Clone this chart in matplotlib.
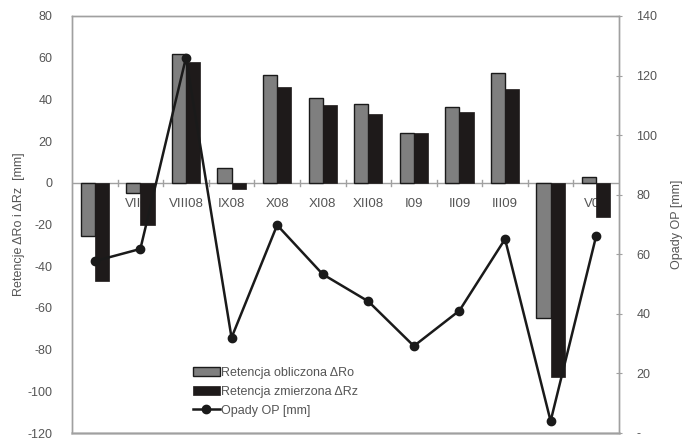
import numpy as np
import matplotlib
matplotlib.use('Agg')
from matplotlib import pyplot as plt
from matplotlib.ticker import FuncFormatter

months = ['VI08', 'VII08', 'VIII08', 'IX08', 'X08', 'XI08', 'XII08',
          'I09', 'II09', 'III09', 'IV09', 'V09']
retencja_obliczona = [-25.5, -5, 62, 7, 51.5, 40.5, 38, 24, 36.5, 52.5, -65, 3]
retencja_zmierzona = [-47, -20, 58, -3, 46, 37.5, 33, 24, 34, 45, -93, -16.5]
opady = [57.7, 61.8, 126, 32, 69.8, 53.3, 44.2, 29.2, 41.1, 65.1, 4, 66.2]

plt.rcParams['font.family'] = ['Liberation Sans', 'DejaVu Sans']
plt.rcParams['axes.unicode_minus'] = False
text_col = '#555555'
spine_col = '#a0a0a0'

fig = plt.figure(figsize=(6.86, 4.41), dpi=100)
ax = fig.add_axes([72 / 686, 1 - 433 / 441, (619 - 72) / 686, (433 - 16) / 441])
ax2 = ax.twinx()

x = np.arange(len(months))
w = 0.31
ax.bar(x - w / 2, retencja_obliczona, w, color='#7f7f7f', edgecolor='#1a1a1a',
       linewidth=1.0, zorder=3, label='Retencja obliczona ΔRo')
ax.bar(x + w / 2, retencja_zmierzona, w, color='#1e1a1a', edgecolor='#1e1a1a',
       linewidth=0.5, zorder=3, label='Retencja zmierzona ΔRz')

ax.set_xlim(-0.5, len(months) - 0.5)
ax.set_ylim(-120, 80)
ax.set_yticks(range(-120, 81, 20))
ax.set_xticks([])
ax.axhline(0, color=spine_col, linewidth=1.0, zorder=2)
for b in np.arange(0.5, len(months) - 0.5, 1):
    ax.plot([b, b], [-1.5, 1.5], color=spine_col, linewidth=1.0, zorder=2)
for i, m in enumerate(months):
    ax.text(i, -10, m, ha='center', va='center', fontsize=9.5, color=text_col, zorder=1)

ax.tick_params(axis='y', length=0, labelsize=9, labelcolor=text_col, pad=14)
ax.set_ylabel('Retencje ΔRo i ΔRz  [mm]', fontsize=9, color=text_col, labelpad=2)

ax2.plot(x, opady, color='#1a1a1a', linewidth=1.8, marker='o', markersize=6,
         zorder=4, label='Opady OP [mm]')
ax2.set_ylim(0, 140)
ax2.set_yticks(range(0, 141, 20))
ax2.yaxis.set_major_formatter(FuncFormatter(lambda v, p: '-' if v == 0 else f'{v:.0f}'))
ax2.tick_params(axis='y', direction='inout', length=5, color=spine_col,
                labelsize=9, labelcolor=text_col, pad=10)
ax2.set_ylabel('Opady OP [mm]', fontsize=9, color=text_col, labelpad=10)

for a in (ax, ax2):
    for s in a.spines.values():
        s.set_color(spine_col)
        s.set_linewidth(1.0)
ax.spines['bottom'].set_linewidth(2.0)
ax.spines['bottom'].set_color('#c8c8c8')

# line axis drawn above the bar axis
ax.set_zorder(0)
ax2.set_zorder(1)
ax2.patch.set_visible(False)

h1, l1 = ax.get_legend_handles_labels()
h2, l2 = ax2.get_legend_handles_labels()
ax2.legend(h1 + h2, l1 + l2, loc='lower left', bbox_to_anchor=(0.2, 0.012),
           frameon=False, fontsize=9, handlelength=2.2, handletextpad=0.1,
           labelcolor=text_col, borderaxespad=0.5, labelspacing=0.55)

fig.savefig('out.png', dpi=100)
